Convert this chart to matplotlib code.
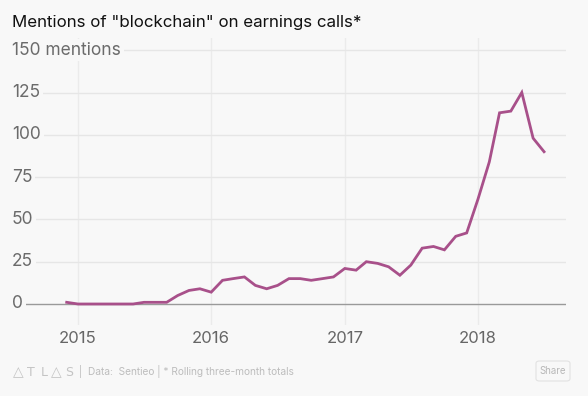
import matplotlib
matplotlib.use("Agg")
import matplotlib.pyplot as plt
import matplotlib.dates as mdates
from matplotlib.patches import FancyBboxPatch
import datetime as dt

plt.rcParams['font.family'] = ['Inter', 'DejaVu Sans']

months = [f"{y}-{m:02d}" for y in range(2014, 2019) for m in range(1, 13)]
months = months[months.index("2014-12"):months.index("2018-07") + 1]
mentions = [1,
            0, 0, 0, 0, 0, 0, 1, 1, 1, 5, 8, 9,
            7, 14, 15, 16, 11, 9, 11, 15, 15, 14, 15, 16,
            21, 20, 25, 24, 22, 17, 23, 33, 34, 32, 40, 42,
            62, 84, 113, 114, 125, 98, 90]
y_ticks = [0, 25, 50, 75, 100, 125, 150]
y_labels = ["0", "25", "50", "75", "100", "125", "150 mentions"]
x_years = [2015, 2016, 2017, 2018]

dates = [dt.datetime.strptime(m + "-01", "%Y-%m-%d") for m in months]

BG = "#f8f8f8"
W, H = 588, 396
fig = plt.figure(figsize=(W / 100, H / 100), dpi=100, facecolor=BG)

L, R, T, B = 12, 566, 38, 325
ax = fig.add_axes([L / W, 1 - B / H, (R - L) / W, (B - T) / H], facecolor=BG)

# x scale: 2015-01-01 at px 78, 2018-01-01 at px 478
d15 = mdates.date2num(dt.datetime(2015, 1, 1))
d18 = mdates.date2num(dt.datetime(2018, 1, 1))
dpp = (d18 - d15) / (478 - 78)
ax.set_xlim(d15 - (78 - L) * dpp, d18 + (R - 478) * dpp)
# y scale: 0 at px 304, 25 per 42.3 px
upp = 25 / 42.3
ax.set_ylim(-(B - 304) * upp, (304 - T) * upp)

for s in ax.spines.values():
    s.set_visible(False)
ax.set_xticks([])
ax.set_yticks([])

for yr in x_years:
    xv = mdates.date2num(dt.datetime(yr, 1, 1))
    ax.axvline(xv, color="#ebebeb", lw=1, zorder=1)
    ax.text(xv, -0.02, str(yr), transform=ax.get_xaxis_transform(),
            ha="center", va="top", fontsize=12, color="#666666")

for v, lab in zip(y_ticks, y_labels):
    if v == 0:
        ax.axhline(v, color="#9a9a9a", lw=1, zorder=2)
    else:
        ax.axhline(v, color="#e6e6e6", lw=1, zorder=1)
    ax.text(0, v, lab, transform=ax.get_yaxis_transform(), ha="left", va="center",
            fontsize=12.5, color="#6b6b6b", zorder=3,
            bbox=dict(facecolor=BG, edgecolor="none", pad=2.0))

ax.plot(dates, mentions, color="#a8508a", lw=2.0, zorder=4, solid_joinstyle="miter")

fig.text(12 / W, 1 - 22 / H, 'Mentions of "blockchain" on earnings calls*',
         ha="left", va="center", fontsize=12.2, color="#111111")

for ch, cx in zip(["△", "T", "L", "△", "S"], [18, 31, 44, 56.5, 69.5]):
    fig.text(cx / W, 1 - 372 / H, ch, ha="center", va="center",
             fontsize=10 if ch == "△" else 9, color="#c4c4c4",
             family=["DejaVu Sans"])
fig.text(79 / W, 1 - 372 / H, "|  Data:  Sentieo | * Rolling three-month totals",
         ha="left", va="center", fontsize=7.3, color="#bdbdbd")

btn = FancyBboxPatch((536 / W, 1 - 381 / H), 34 / W, 20 / H,
                     boxstyle="round,pad=0,rounding_size=0.006",
                     transform=fig.transFigure, facecolor=BG,
                     edgecolor="#e2e2e2", lw=0.8)
fig.patches.append(btn)
fig.text(553 / W, 1 - 371 / H, "Share", ha="center", va="center",
         fontsize=7, color="#b8b8b8")

fig.savefig("out.png", dpi=100, facecolor=BG)
